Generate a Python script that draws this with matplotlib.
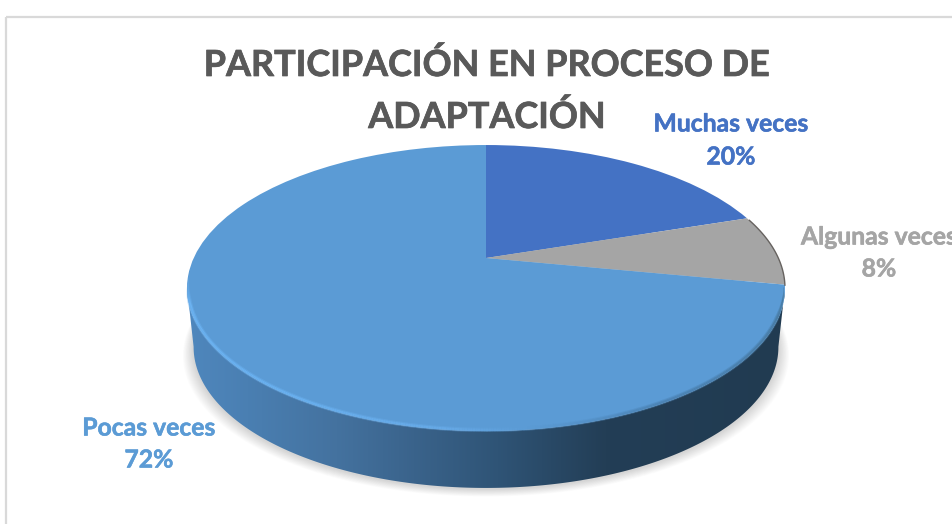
import numpy as np
import matplotlib
matplotlib.use('Agg')
import matplotlib.pyplot as plt
import matplotlib.patheffects as pe
from matplotlib.collections import LineCollection
from matplotlib.colors import LinearSegmentedColormap
from matplotlib.patches import Polygon, Rectangle
from matplotlib.transforms import Transform

categories = ['Muchas veces', 'Algunas veces', 'Pocas veces']
values = [20, 8, 72]
colors = ['#4472c4', '#a5a5a5', '#5b9bd5']
title = 'PARTICIPACIÓN EN PROCESO DE\nADAPTACIÓN'

plt.rcParams['font.family'] = ['Lato', 'DejaVu Sans']

# tilt of the pie, in pixels of the picture
CX, CY = 486.0, 258.0
RX, RY = 292.3, 136.7
TILT = 0.21
DEPTH = 59.5
SHRINK = 0.985


class TiltedDisc(Transform):
    input_dims = 2
    output_dims = 2

    def __init__(self, cx=CX, cy=CY, rx=RX, ry=RY):
        super().__init__()
        self.cx, self.cy, self.rx, self.ry = cx, cy, rx, ry

    def transform_non_affine(self, values):
        uv = np.asarray(values)
        w = 1 + TILT * uv[:, 1]
        return np.column_stack([self.cx + self.rx * uv[:, 0] / w,
                                self.cy - self.ry * uv[:, 1] / w])


def ring(a0, a1, tr, n=300):
    a = np.radians(np.linspace(a0, a1, n))
    return tr.transform(np.column_stack([np.cos(a), np.sin(a)]))


top = TiltedDisc()
bottom = TiltedDisc(CX, CY + DEPTH, RX * 0.978, RY * SHRINK)

fig = plt.figure(figsize=(9.53, 5.24), dpi=100)
ax = fig.add_axes([0, 0, 1, 1])

wedges, _ = ax.pie(values, colors=colors, startangle=90, counterclock=False,
                   radius=1, center=(0, 0))
for w in wedges:
    w.set_transform(TiltedDisc() + ax.transData)
    w.set_zorder(5)
    w.set_clip_on(False)
    w.set_linewidth(0)

ax.set_aspect('auto')
ax.axis('off')

# frame of the chart
ax.add_patch(Rectangle((6.5, 16.5), 1200, 800, fill=False, ec='#d9d9d9', lw=1.6, zorder=1))

# soft shadow under the disc
for s in np.linspace(14, 1, 14):
    sh = TiltedDisc(CX, CY + DEPTH + 1 + s * 0.55, RX * 0.978 + s * 0.75, RY * SHRINK)
    ax.add_patch(Polygon(ring(0, 360, sh), fc='black', ec='none', alpha=0.012, zorder=2))

# side of the disc, between the widest points of both ellipses
side = np.vstack([ring(192, 348, bottom), ring(348, 192, top)])
side_patch = Polygon(side, fc='none', ec='none', transform=ax.transData)
ax.add_patch(side_patch)
side_cmap = LinearSegmentedColormap.from_list('side', [
    (0.00, '#4f87bd'), (0.10, '#4a7fb2'), (0.25, '#44729f'), (0.38, '#3a638b'),
    (0.52, '#2f5476'), (0.70, '#233e56'), (1.00, '#213b51')])
im = ax.imshow(np.linspace(0, 1, 256)[None, :], cmap=side_cmap, aspect='auto',
               extent=(187, 785, 500, 250), zorder=3)
im.set_clip_path(side_patch)

# bevel along the front rim of the top, tapered at both ends
rim = ring(185, 348, TiltedDisc(CX, CY, RX - 1.2, RY - 1.0), 400)
seg = np.stack([rim[:-1], rim[1:]], axis=1)
rim_cmap = LinearSegmentedColormap.from_list('rim', [
    (0.00, '#5b9bd5'), (0.08, '#6cb3f2'), (0.30, '#69b0ef'), (0.48, '#66a9e6'), (0.56, '#5b9bd5'),
    (0.70, '#4c84b6'), (1.00, '#47799f')])
t = np.linspace(0, 1, len(seg))
taper = np.clip(np.minimum(t, 1 - t) / 0.07, 0.1, 1)
ax.add_collection(LineCollection(seg, colors=rim_cmap(t), linewidths=3.2 * taper, alpha=0.45,
                                 capstyle='butt', zorder=6))
ax.add_collection(LineCollection(seg, colors=rim_cmap(t), linewidths=1.6 * taper,
                                 capstyle='butt', zorder=6))

# dark edge of the grey slice
ax.plot(*ring(17, -11, top, 60).T, color='#66625f', lw=1.0, zorder=6)

ax.set_xlim(0, 953)
ax.set_ylim(524, 0)

bold = [pe.withStroke(linewidth=0.5, foreground='#595959')]

# title
lines = title.split('\n')
ax.text(487, 65, lines[0], color='#595959', fontsize=25.9, fontweight='bold', ha='center', va='center',
        zorder=8, path_effects=bold)
ax.text(487, 117, lines[1], color='#595959', fontsize=25.9, fontweight='bold', ha='center', va='center',
        zorder=8, path_effects=bold)

# data labels
label_x = [731, 879, 149]
label_y = [124, 237, 428]
pct_y = [157, 269, 460]
for name, v, c, x, y, y2 in zip(categories, values, colors, label_x, label_y, pct_y):
    stroke = [pe.withStroke(linewidth=0.4, foreground=c)]
    ax.text(x, y, name, color=c, fontsize=17.8, fontweight='bold', ha='center', va='center', zorder=8,
            path_effects=stroke)
    ax.text(x, y2, f'{v}%', color=c, fontsize=17.8, fontweight='bold', ha='center', va='center', zorder=8,
            path_effects=stroke)

fig.savefig('out.png', dpi=100, facecolor='white')
